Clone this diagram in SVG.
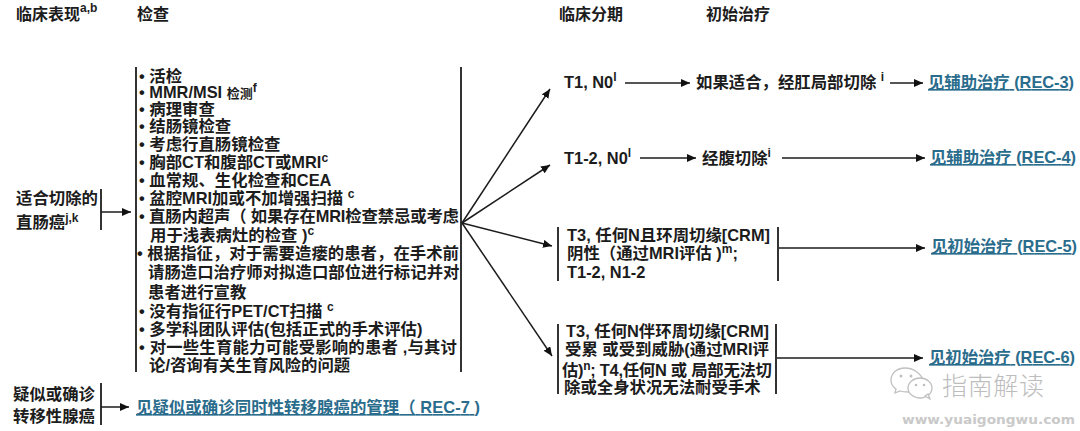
<svg xmlns="http://www.w3.org/2000/svg" width="1080" height="431" viewBox="0 0 1080 431">
<style>
text{font-family:"Liberation Sans","Noto Sans CJK SC",sans-serif;font-weight:700;font-size:16.4px;fill:#1c1c1c}
.h{font-size:16px}
.link{fill:#2a6c8c;text-decoration:underline}
.sup{font-size:12px}
.wm{fill:#bdbdbd;font-weight:300;font-size:25px;font-family:"Noto Sans CJK SC",sans-serif}
.url{fill:#c9c9c9;font-size:13px;font-family:"DejaVu Sans",sans-serif}
.b{stroke:#333;stroke-width:2;fill:none}
.a{stroke:#1c1c1c;stroke-width:1.5;fill:none;marker-end:url(#ah)}
.w{stroke:#c0c0c0;stroke-width:1.3;fill:#fff}
.d{fill:#c0c0c0}
</style>
<defs><marker id="ah" markerUnits="userSpaceOnUse" markerWidth="10" markerHeight="8" refX="9" refY="4" orient="auto"><path d="M0 0L9 4L0 8Z" fill="#111"/></marker></defs>
<rect width="1080" height="431" fill="#fff"/>
<g id="headers">
<text class="h" x="16" y="20">临床表现<tspan class="sup" dy="-8">a,b</tspan></text>
<text class="h" x="137" y="20">检查</text>
<text class="h" x="559" y="20">临床分期</text>
<text class="h" x="706" y="20">初始治疗</text>
</g>
<g id="node-resectable">
<text x="16" y="204">适合切除的</text>
<text x="16" y="228">直肠癌<tspan class="sup" dy="-6">j,k</tspan></text>
<path class="b" d="M101 189V230"/>
</g>
<g id="node-workup">
<path class="b" d="M136 67V372M461 67V372"/>
<text x="139" y="82">• 活检</text>
<text x="139" y="98">• MMR/MSI <tspan font-size="13">检测</tspan><tspan class="sup" dy="-6">f</tspan></text>
<text x="139" y="115">• 病理审查</text>
<text x="139" y="132">• 结肠镜检查</text>
<text x="139" y="150">• 考虑行直肠镜检查</text>
<text x="139" y="168">• 胸部CT和腹部CT或MRI<tspan class="sup" dy="-6">c</tspan></text>
<text x="139" y="186">• 血常规、生化检查和CEA</text>
<text x="139" y="204">• 盆腔MRI加或不加增强扫描 <tspan class="sup" dy="-6">c</tspan></text>
<text x="139" y="222" textLength="320">• 直肠内超声（ 如果存在MRI检查禁忌或考虑</text>
<text x="150" y="241">用于浅表病灶的检查 )<tspan class="sup" dy="-6">c</tspan></text>
<text x="137" y="259" textLength="322">• 根据指征，对于需要造瘘的患者，在手术前</text>
<text x="148" y="278">请肠造口治疗师对拟造口部位进行标记并对</text>
<text x="148" y="298">患者进行宣教</text>
<text x="139" y="317">• 没有指征行PET/CT扫描 <tspan class="sup" dy="-6">c</tspan></text>
<text x="139" y="335">• 多学科团队评估(包括正式的手术评估)</text>
<text x="139" y="353" textLength="318">• 对一些生育能力可能受影响的患者 ,与其讨</text>
<text x="149" y="371">论/咨询有关生育风险的问题</text>
</g>
<g id="node-metastatic">
<text x="13" y="400" font-size="16">疑似或确诊</text>
<text x="13" y="422" font-size="16">转移性腺癌</text>
<path class="b" d="M101 383V425"/>
</g>
<g id="node-rec7"><text class="link" x="136" y="413" textLength="344">见疑似或确诊同时性转移腺癌的管理（ REC-7 )</text></g>
<g id="node-t1n0"><text x="564" y="88">T1, N0<tspan class="sup" dy="-7">l</tspan></text></g>
<g id="node-local"><text x="696" y="88">如果适合，经肛局部切除 <tspan class="sup" dy="-7">i</tspan></text></g>
<g id="node-rec3"><text class="link" x="928" y="88" textLength="146">见辅助治疗 (REC-3)</text></g>
<g id="node-t12n0"><text x="564" y="164">T1-2, N0<tspan class="sup" dy="-7">l</tspan></text></g>
<g id="node-abd"><text x="702" y="164">经腹切除<tspan class="sup" dy="-7">i</tspan></text></g>
<g id="node-rec4"><text class="link" x="930" y="163" textLength="146">见辅助治疗 (REC-4)</text></g>
<g id="node-t3crmneg">
<path class="b" d="M558 227V281M778 227V281"/>
<text x="567" y="241">T3, 任何N且环周切缘[CRM]</text>
<text x="567" y="259">阴性（通过MRI评估 )<tspan class="sup" dy="-6">m</tspan><tspan dy="6">;</tspan></text>
<text x="567" y="278">T1-2, N1-2</text>
</g>
<g id="node-rec5"><text class="link" x="931" y="252" textLength="146">见初始治疗 (REC-5)</text></g>
<g id="node-t3crmpos">
<path class="b" d="M558 324V394M776 324V394"/>
<text x="566" y="337">T3, 任何N伴环周切缘[CRM]</text>
<text x="565" y="355">受累 或受到威胁(通过MRI评</text>
<text x="562" y="376" textLength="210">估)<tspan class="sup" dy="-6">n</tspan><tspan dy="6">; T4,任何N 或 局部无法切</tspan></text>
<text x="564" y="393">除或全身状况无法耐受手术</text>
</g>
<g id="node-rec6"><text class="link" x="929" y="363" textLength="146">见初始治疗 (REC-6)</text></g>
<g id="connectors">
<path class="a" d="M101 212H131"/>
<path class="a" d="M101 407H129"/>
<path class="a" d="M462 223L550 89"/>
<path class="a" d="M462 223L550 165"/>
<path class="a" d="M462 223L552 246"/>
<path class="a" d="M462 223L552 356"/>
<path class="a" d="M625 83H690"/>
<path class="a" d="M890 83H923"/>
<path class="a" d="M640 158H696"/>
<path class="a" d="M782 158H925"/>
<path class="a" d="M779 248H925"/>
<path class="a" d="M777 358H923"/>
</g>
<g id="watermark">
<path class="w" d="M905 368C896 368 891 374 891 380C891 384 893 387 896 389L895 393L900 391C903 392 906 392 908 392L925 384C922 374 914 368 905 368Z"/>
<ellipse class="w" cx="920" cy="388" rx="12" ry="10"/>
<path class="w" d="M925 396L930 399L928 394Z"/>
<circle class="d" cx="901" cy="376" r="1.5"/><circle class="d" cx="911" cy="376" r="1.5"/>
<circle class="d" cx="916" cy="385" r="1.3"/><circle class="d" cx="924" cy="385" r="1.3"/>
<text class="wm" x="942" y="395" textLength="102">指南解读</text>
<text class="url" x="902" y="424" textLength="173" lengthAdjust="spacingAndGlyphs">www.yuaigongwu.com</text>
</g>
</svg>
